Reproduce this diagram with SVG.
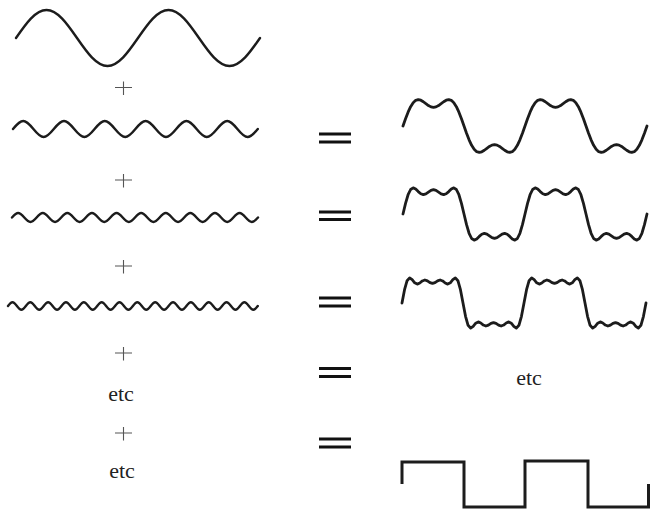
<svg xmlns="http://www.w3.org/2000/svg" width="651" height="512" viewBox="0 0 651 512">
<style>
.w{fill:none;stroke:#1c1c1c;stroke-width:2.4;stroke-linejoin:round;stroke-linecap:round;vector-effect:non-scaling-stroke}
.r{fill:none;stroke:#1c1c1c;stroke-width:2.8;stroke-linejoin:round;stroke-linecap:round;vector-effect:non-scaling-stroke}
.sq{fill:none;stroke:#1c1c1c;stroke-width:3;stroke-linejoin:miter;stroke-linecap:butt}
.pl{stroke:#555;stroke-width:1.1;fill:none}
.eq{stroke:#111;stroke-width:3;fill:none}
.t{font-family:Liberation Serif,Tinos,Times New Roman,Noto Serif,DejaVu Serif,FreeSerif,serif;font-size:22px;fill:#222;text-anchor:middle}
</style>
<rect width="651" height="512" fill="#fff"/>

<g id="wave1">
<path class="w" transform="translate(16,38) scale(30.5,28)" d="M0,0 c0.326,-0.512 0.638,-1 1,-1
s0.674,0.488 1,1 s0.638,1 1,1 s0.674,-0.488 1,-1 s0.638,-1 1,-1
s0.674,0.488 1,1 s0.638,1 1,1 s0.674,-0.488 1,-1"/>
</g>
<g id="wave3x">
<path class="w" transform="translate(13,129) scale(10.2,8)" d="M0,0 c0.326,-0.512 0.638,-1 1,-1
s0.674,0.488 1,1 s0.638,1 1,1 s0.674,-0.488 1,-1 s0.638,-1 1,-1
s0.674,0.488 1,1 s0.638,1 1,1 s0.674,-0.488 1,-1 s0.638,-1 1,-1
s0.674,0.488 1,1 s0.638,1 1,1 s0.674,-0.488 1,-1 s0.638,-1 1,-1
s0.674,0.488 1,1 s0.638,1 1,1 s0.674,-0.488 1,-1 s0.638,-1 1,-1
s0.674,0.488 1,1 s0.638,1 1,1 s0.674,-0.488 1,-1 s0.638,-1 1,-1
s0.674,0.488 1,1 s0.638,1 1,1 s0.674,-0.488 1,-1"/>
</g>
<g id="wave5x">
<path class="w" transform="translate(12,217.5) scale(6.15,4.5)" d="M0,0 c0.326,-0.512 0.638,-1 1,-1
s0.674,0.488 1,1 s0.638,1 1,1 s0.674,-0.488 1,-1 s0.638,-1 1,-1
s0.674,0.488 1,1 s0.638,1 1,1 s0.674,-0.488 1,-1 s0.638,-1 1,-1
s0.674,0.488 1,1 s0.638,1 1,1 s0.674,-0.488 1,-1 s0.638,-1 1,-1
s0.674,0.488 1,1 s0.638,1 1,1 s0.674,-0.488 1,-1 s0.638,-1 1,-1
s0.674,0.488 1,1 s0.638,1 1,1 s0.674,-0.488 1,-1 s0.638,-1 1,-1
s0.674,0.488 1,1 s0.638,1 1,1 s0.674,-0.488 1,-1 s0.638,-1 1,-1
s0.674,0.488 1,1 s0.638,1 1,1 s0.674,-0.488 1,-1 s0.638,-1 1,-1
s0.674,0.488 1,1 s0.638,1 1,1 s0.674,-0.488 1,-1 s0.638,-1 1,-1
s0.674,0.488 1,1 s0.638,1 1,1 s0.674,-0.488 1,-1 s0.638,-1 1,-1
s0.674,0.488 1,1 s0.638,1 1,1 s0.674,-0.488 1,-1"/>
</g>
<g id="wave7x">
<path class="w" transform="translate(8,306) scale(4.46,3.8)" d="M0,0 c0.326,-0.512 0.638,-1 1,-1
s0.674,0.488 1,1 s0.638,1 1,1 s0.674,-0.488 1,-1 s0.638,-1 1,-1
s0.674,0.488 1,1 s0.638,1 1,1 s0.674,-0.488 1,-1 s0.638,-1 1,-1
s0.674,0.488 1,1 s0.638,1 1,1 s0.674,-0.488 1,-1 s0.638,-1 1,-1
s0.674,0.488 1,1 s0.638,1 1,1 s0.674,-0.488 1,-1 s0.638,-1 1,-1
s0.674,0.488 1,1 s0.638,1 1,1 s0.674,-0.488 1,-1 s0.638,-1 1,-1
s0.674,0.488 1,1 s0.638,1 1,1 s0.674,-0.488 1,-1 s0.638,-1 1,-1
s0.674,0.488 1,1 s0.638,1 1,1 s0.674,-0.488 1,-1 s0.638,-1 1,-1
s0.674,0.488 1,1 s0.638,1 1,1 s0.674,-0.488 1,-1 s0.638,-1 1,-1
s0.674,0.488 1,1 s0.638,1 1,1 s0.674,-0.488 1,-1 s0.638,-1 1,-1
s0.674,0.488 1,1 s0.638,1 1,1 s0.674,-0.488 1,-1 s0.638,-1 1,-1
s0.674,0.488 1,1 s0.638,1 1,1 s0.674,-0.488 1,-1 s0.638,-1 1,-1
s0.674,0.488 1,1 s0.638,1 1,1 s0.674,-0.488 1,-1 s0.638,-1 1,-1
s0.674,0.488 1,1 s0.638,1 1,1 s0.674,-0.488 1,-1 s0.638,-1 1,-1
s0.674,0.488 1,1 s0.638,1 1,1 s0.674,-0.488 1,-1"/>
</g>

<g id="plus1"><path class="pl" d="M115,87.5H132M123.5,81.5V95"/></g>
<g id="plus2"><path class="pl" d="M115,180H132M123.5,174V187.5"/></g>
<g id="plus3"><path class="pl" d="M115,266H132M123.5,260V273.5"/></g>
<g id="plus4"><path class="pl" d="M115,353H132M123.5,347V360.5"/></g>
<g id="plus5"><path class="pl" d="M115,433H132M123.5,427V440.5"/></g>

<g id="etc1"><text class="t" x="121" y="401">etc</text></g>
<g id="etc2"><text class="t" x="122" y="478">etc</text></g>

<g id="equals">
<path class="eq" d="M319,134H351M319,142H351"/>
<path class="eq" d="M319,212H351M319,219.5H351"/>
<path class="eq" d="M319,298H351M319,306H351"/>
<path class="eq" d="M319,368.5H351M319,376.5H351"/>
<path class="eq" d="M319,439H351M319,447H351"/>
</g>

<g id="sum2">
<path class="r" transform="translate(403,126) scale(2.5417,0.028)" d="M0,0 1,-258 2,-495 3,-691 4,-833 5,-917 6,-943 7,-921 8,-866 9,-796 10,-730 11,-683 12,-667 13,-683 14,-730 15,-796 16,-866 17,-921 18,-943 19,-917 20,-833 21,-691 22,-495 23,-258 24,0 25,258 26,495 27,691 28,833 29,917 30,943 31,921 32,866 33,796 34,730 35,683 36,667 37,683 38,730 39,796 40,866 41,921 42,943 43,917 44,833 45,691 46,495 47,258 48,0 49,-258 50,-495 51,-691 52,-833 53,-917 54,-943 55,-921 56,-866 57,-796 58,-730 59,-683 60,-667 61,-683 62,-730 63,-796 64,-866 65,-921 66,-943 67,-917 68,-833 69,-691 70,-495 71,-258 72,0 73,258 74,495 75,691 76,833 77,917 78,943 79,921 80,866 81,796 82,730 83,683 84,667 85,683 86,730 87,796 88,866 89,921 90,943 91,917 92,833 93,691 94,495 95,258 96,0"/>
</g>
<g id="sum3">
<path class="r" transform="translate(403,214) scale(2.5417,0.028)" d="M0,0 1,-380 2,-688 3,-875 4,-933 5,-891 6,-801 7,-723 8,-693 9,-720 10,-782 11,-842 12,-867 13,-842 14,-782 15,-720 16,-693 17,-723 18,-801 19,-891 20,-933 21,-875 22,-688 23,-380 24,0 25,380 26,688 27,875 28,933 29,891 30,801 31,723 32,693 33,720 34,782 35,842 36,867 37,842 38,782 39,720 40,693 41,723 42,801 43,891 44,933 45,875 46,688 47,380 48,0 49,-380 50,-688 51,-875 52,-933 53,-891 54,-801 55,-723 56,-693 57,-720 58,-782 59,-842 60,-867 61,-842 62,-782 63,-720 64,-693 65,-723 66,-801 67,-891 68,-933 69,-875 70,-688 71,-380 72,0 73,380 74,688 75,875 76,933 77,891 78,801 79,723 80,693 81,720 82,782 83,842 84,867 85,842 86,782 87,720 88,693 89,723 90,801 91,891 92,933 93,875 94,688 95,380 96,0"/>
</g>
<g id="sum4">
<path class="r" transform="translate(402,303) scale(2.5417,0.027)" d="M0,0 1,-493 2,-826 3,-930 4,-862 5,-749 6,-700 7,-741 8,-817 9,-852 10,-819 11,-755 12,-724 13,-755 14,-819 15,-852 16,-817 17,-741 18,-700 19,-749 20,-862 21,-930 22,-826 23,-493 24,0 25,493 26,826 27,930 28,862 29,749 30,700 31,741 32,817 33,852 34,819 35,755 36,724 37,755 38,819 39,852 40,817 41,741 42,700 43,749 44,862 45,930 46,826 47,493 48,0 49,-493 50,-826 51,-930 52,-862 53,-749 54,-700 55,-741 56,-817 57,-852 58,-819 59,-755 60,-724 61,-755 62,-819 63,-852 64,-817 65,-741 66,-700 67,-749 68,-862 69,-930 70,-826 71,-493 72,0 73,493 74,826 75,930 76,862 77,749 78,700 79,741 80,817 81,852 82,819 83,755 84,724 85,755 86,819 87,852 88,817 89,741 90,700 91,749 92,862 93,930 94,826 95,493 96,0"/>
</g>

<g id="etc3"><text class="t" x="529" y="385">etc</text></g>

<g id="square">
<path class="sq" d="M402,484V462H464V507H525V461H588V507H648.5V484"/>
</g>
</svg>
